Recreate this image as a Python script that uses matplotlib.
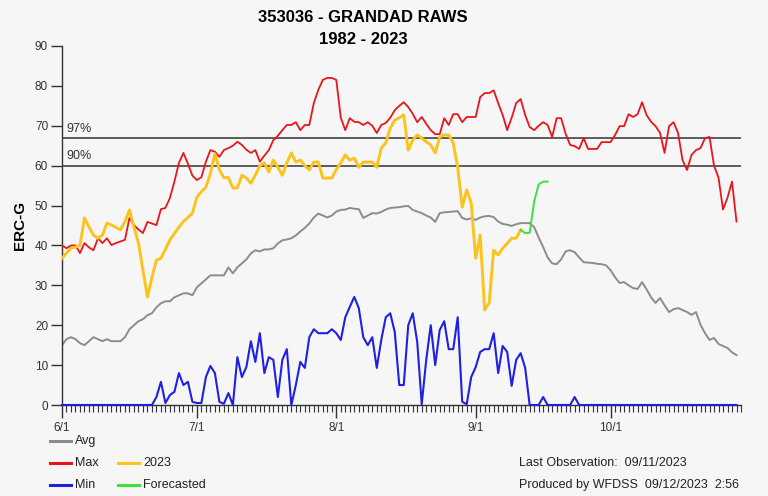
import numpy as np
import pandas as pd
import matplotlib
matplotlib.use("Agg")
import matplotlib.pyplot as plt
import matplotlib.dates as mdates
from matplotlib.lines import Line2D

plt.rcParams['font.family'] = ['Liberation Sans Narrow', 'Liberation Sans', 'DejaVu Sans']

# daily values from 6/1
avg = [15, 16.5, 17, 16.5, 15.5, 15, 16, 17, 16.5, 16, 16.5, 16, 16, 16, 17, 19, 20, 21, 21.5, 22.5,
       23, 24.5, 25.5, 26, 26, 27, 27.5, 28, 28, 27.5, 29.5, 30.5, 31.5, 32.5, 32.5, 32.5, 32.5, 34.5, 33, 34.5,
       35.5, 36.5, 38, 38.8, 38.5, 39, 39, 39.3, 40.5, 41.3, 41.5, 41.8, 42.5, 43.5, 44.4, 45.5, 47, 48, 47.5, 47,
       47.5, 48.5, 48.9, 49, 49.4, 49.2, 49.1, 46.9, 47.5, 48.1, 48, 48.4, 49, 49.4, 49.5, 49.6, 49.8, 49.9, 48.9, 48.5,
       48.1, 47.5, 47, 45.9, 48.1, 48.3, 48.4, 48.5, 48.6, 46.9, 46.5, 46.8, 46.4, 47, 47.3, 47.4, 47.1, 46, 45.4, 45.2,
       44.9, 45.3, 45.6, 45.6, 45.6, 44.6, 42, 39.6, 37, 35.5, 35.3, 36.5, 38.5, 38.8, 38.3, 37, 35.8, 35.7, 35.6, 35.4,
       35.3, 35, 33.8, 32, 30.6, 30.8, 30, 29.3, 29.1, 30.8, 29, 27, 25.6, 26.8, 25, 23.3, 24, 24.3, 23.8, 23.3,
       22.6, 23.3, 20.1, 18, 16.3, 16.8, 15.3, 14.8, 14.3, 13.2, 12.5]

max_erc = [40, 39.3, 40, 40, 38.1, 40.6, 39.5, 38.8, 41.8, 40.6, 41.8, 40.1, 40.6, 41, 41.4, 46.9, 45.1, 44, 43.1, 45.9,
           45.5, 45.1, 49.1, 49.4, 51.9, 56, 60.7, 63.2, 60.5, 57.5, 56.4, 57.1, 61, 63.9, 63.5, 62.2, 63.9, 64.4, 65, 66,
           65.2, 64, 63.2, 63.9, 61, 62.5, 63.9, 66.4, 67.5, 68.9, 70.2, 70.2, 70.9, 68.9, 70.2, 70.2, 75.7, 79, 81.5, 82,
           82, 81.5, 72, 68.9, 71.9, 71, 70.9, 70.2, 70.9, 70, 68.2, 70.2, 70.7, 72, 73.9, 75, 75.9, 74.7, 73, 70.9,
           72.2, 70.5, 68.9, 67.9, 67.9, 71.9, 70.2, 72.9, 72.9, 70.9, 72.2, 72.2, 72.2, 77.2, 78.2, 78.2, 78.9, 75.7, 72.7, 68.9,
           72, 75.7, 76.7, 72.7, 69.7, 68.9, 70, 70.9, 70.2, 67.2, 71.9, 71.9, 68, 65.2, 64.9, 64.2, 66.9, 64.2, 64.2, 64.2,
           65.9, 65.9, 65.9, 67.7, 69.9, 69.9, 72.9, 72.2, 72.9, 75.9, 72.7, 71, 69.9, 68.2, 63.2, 69.9, 70.9, 68.2, 61.4, 58.9,
           62.7, 63.9, 64.4, 66.9, 67.2, 60, 57, 49, 52, 56, 46]

min_erc = [0] * 21 + [2, 5.8, 0.5, 2.5, 3.3, 8, 5, 5.8, 0.8, 0.5, 0.5, 7, 9.8, 8, 0.8, 0.3, 3, 0, 12,
           7, 9.5, 16, 10.8, 18, 8, 12, 11.3, 2, 11.3, 14, 0, 5, 10.8, 9.3, 17, 19, 18, 18, 18,
           19, 18, 16.3, 22, 24.6, 27.1, 24.3, 17, 15, 17, 9.3, 16.3, 22, 23, 18.3, 5, 5, 20, 23, 15.8,
           0.2, 11.3, 20, 10, 18.8, 21, 14, 14, 22, 0.8, 0.2, 7, 9.5, 13.3, 14, 14, 18, 8, 14.8, 13.3,
           4.8, 11.3, 13, 9.3, 0, 0, 0, 2, 0, 0, 0, 0, 0, 0, 2, 0] + [0] * 35

erc_2023 = [36.8, 38.1, 39.3, 39.6, 40, 46.9, 44.6, 42.6, 41.8, 42.6, 45.6, 45.1, 44.5, 43.9, 46, 48.9, 44.6, 40.6, 33.8, 27.1,
            32, 36.3, 36.8, 39, 41.4, 43, 44.6, 46, 47, 48.1, 52.1, 53.5, 54.6, 58, 63, 59, 57, 57, 54.4, 54.4,
            57.6, 56.9, 55.6, 57.6, 60, 60.7, 58.4, 61.4, 59.6, 57.6, 60.7, 63.2, 60.9, 61.4, 60, 58.9, 60.9, 60.9, 56.9, 56.9,
            56.9, 59, 60.7, 62.7, 61.4, 61.9, 59.6, 60.9, 60.9, 60.9, 59.6, 64.4, 65.7, 69.4, 71.4, 72, 72.7, 63.9, 66.4, 67.7,
            66.9, 66, 65.2, 63.2, 67.2, 67.7, 67.7, 65.7, 59.6, 49.6, 53.9, 50.6, 36.8, 42.6, 23.8, 25.6, 38.8, 37.6, 39.3, 40.5,
            41.8, 41.8, 43.9]

forecast = [43.9, 43.1, 43.2, 51, 55.3, 56, 56]

pct97 = 67
pct90 = 60

days = pd.date_range('2023-06-01', periods=len(avg), freq='D')
fc_days = pd.date_range('2023-09-11', periods=len(forecast), freq='D')

bg = '#f6f6f6'
fig = plt.figure(figsize=(7.68, 4.96), dpi=100, facecolor=bg)
ax = fig.add_axes([62 / 768, 1 - 405 / 496, 679 / 768, 359 / 496], facecolor=bg)

ax.axhline(pct97, color='#333333', lw=1.1, zorder=1)
ax.axhline(pct90, color='#333333', lw=1.1, zorder=1)
ax.text(days[1], pct97 + 0.8, '97%', fontsize=9, color='#333333', va='bottom')
ax.text(days[1], pct90 + 0.8, '90%', fontsize=9, color='#333333', va='bottom')

ax.plot(days, avg, color='#8c8c8c', lw=1.4, zorder=2)
ax.plot(days, max_erc, color='#e8161c', lw=1.3, zorder=3)
ax.plot(days[:len(erc_2023)], erc_2023, color='#fbc31c', lw=2.1, zorder=4)
ax.plot(fc_days, forecast, color='#3ee03e', lw=1.4, zorder=4)
ax.plot(days, min_erc, color='#2020e0', lw=1.5, zorder=5, clip_on=False)

ax.set_ylim(0, 90)
ax.set_yticks(range(0, 91, 10))
ax.set_xlim(days[0], days[0] + pd.Timedelta(days=151))
ax.xaxis.set_major_locator(mdates.MonthLocator())
ax.xaxis.set_major_formatter(mdates.DateFormatter('%-m/%-d'))
ax.xaxis.set_minor_locator(mdates.DayLocator())

for s in ['top', 'right']:
    ax.spines[s].set_visible(False)
for s in ['left', 'bottom']:
    ax.spines[s].set_color('#333333')
    ax.spines[s].set_linewidth(1.0)

ax.tick_params(axis='y', length=8, width=1, color='#333333', labelsize=8.5, labelcolor='#333333', pad=2)
ax.tick_params(axis='x', which='major', length=9, width=1, color='#333333', labelsize=8.5,
               labelcolor='#333333', pad=3)
ax.tick_params(axis='x', which='minor', length=5, width=0.8, color='#333333')

ax.set_ylabel('ERC-G', fontsize=11, fontweight='bold', family=['Liberation Sans', 'DejaVu Sans'], labelpad=6)

fig.text(363 / 768, 1 - 18 / 496, '353036 - GRANDAD RAWS', ha='center', va='center',
         fontsize=12, fontweight='bold', family=['Liberation Sans', 'DejaVu Sans'])
fig.text(363 / 768, 1 - 40 / 496, '1982 - 2023', ha='center', va='center',
         fontsize=12, fontweight='bold', family=['Liberation Sans', 'DejaVu Sans'])

# legend laid out like the original
legend_items = [
    (50, 441, '#8c8c8c', 'Avg'),
    (50, 463, '#e8161c', 'Max'),
    (118, 463, '#fbc31c', '2023'),
    (50, 485, '#2020e0', 'Min'),
    (118, 485, '#3ee03e', 'Forecasted'),
]
for x0, y0, col, label in legend_items:
    fig.add_artist(Line2D([x0 / 768, (x0 + 21) / 768], [1 - y0 / 496, 1 - y0 / 496], color=col, lw=2.2))
    fig.text((x0 + 25) / 768, 1 - y0 / 496, label, fontsize=9, va='center', color='#222222')

fig.text(519 / 768, 1 - 463 / 496, 'Last Observation:  09/11/2023', fontsize=9, va='center', color='#222222')
fig.text(519 / 768, 1 - 485 / 496, 'Produced by WFDSS  09/12/2023  2:56', fontsize=9, va='center', color='#222222')

fig.savefig('out.png', dpi=100, facecolor=bg)
